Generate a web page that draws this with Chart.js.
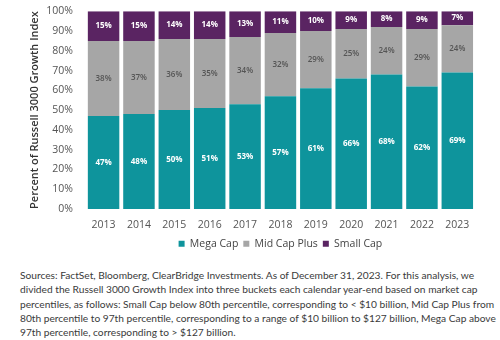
<!DOCTYPE html>
<html>
<head>
<meta charset="utf-8">
<script src="https://cdn.jsdelivr.net/npm/chart.js@4.4.0/dist/chart.umd.min.js"></script>
<style>
  html, body { margin: 0; padding: 0; background: #fff; }
  body { width: 500px; height: 340px; position: relative; overflow: hidden; font-family: "Open Sans", sans-serif; }
  #wrap { position: absolute; left: 0; top: 0; width: 500px; height: 259px; }
  #note { position: absolute; left: 20px; top: 268px; width: 480px; white-space: nowrap; font-family: Lato, sans-serif; font-size: 10.2px; line-height: 14.3px; color: #3a3a3a; }
</style>
</head>
<body>
<div id="wrap"><canvas id="chart"></canvas></div>
<div id="note">Sources: FactSet, Bloomberg, ClearBridge Investments. As of December 31, 2023. For this analysis, we<br>divided the Russell 3000 Growth Index into three buckets each calendar year-end based on market cap<br>percentiles, as follows: Small Cap below 80th percentile, corresponding to &lt; $10 billion, Mid Cap Plus from<br>80th percentile to 97th percentile, corresponding to a range of $10 billion to $127 billion, Mega Cap above<br>97th percentile, corresponding to &gt; $127 billion.</div>
<script>
const years = ['2013', '2014', '2015', '2016', '2017', '2018', '2019', '2020', '2021', '2022', '2023'];
const megaCap = [47, 48, 50, 51, 53, 57, 61, 66, 68, 62, 69];
const midCapPlus = [38, 37, 36, 35, 34, 32, 29, 25, 24, 29, 24];
const smallCap = [15, 15, 14, 14, 13, 11, 10, 9, 8, 9, 7];

// draws the % value in the middle of every segment
const segmentLabels = {
    id: 'segmentLabels',
    afterDatasetsDraw(chart) {
        const ctx = chart.ctx;
        ctx.save();
        ctx.textAlign = 'center';
        ctx.textBaseline = 'middle';
        chart.data.datasets.forEach((ds, i) => {
            const meta = chart.getDatasetMeta(i);
            ctx.font = (i === 1 ? '600 ' : 'bold ') + '8px "Open Sans", sans-serif';
            ctx.fillStyle = i === 1 ? '#555555' : '#ffffff';
            meta.data.forEach((bar, j) => {
                const y = (bar.y + bar.base) / 2;
                ctx.fillText(ds.data[j] + '%', bar.x, y);
            });
        });
        ctx.restore();
    }
};

const ctx = document.getElementById('chart').getContext('2d');
new Chart(ctx, {
    type: 'bar',
    data: {
        labels: years,
        datasets: [
            { label: 'Mega Cap', data: megaCap, backgroundColor: '#0e949c' },
            { label: 'Mid Cap Plus', data: midCapPlus, backgroundColor: '#a6a6a6' },
            { label: 'Small Cap', data: smallCap, backgroundColor: '#5a2462' }
        ]
    },
    options: {
        responsive: true,
        maintainAspectRatio: false,
        animation: false,
        layout: { padding: { top: 9, right: 25, left: 28, bottom: 0 } },
        datasets: { bar: { categoryPercentage: 1, barPercentage: 0.89, borderWidth: 0 } },
        scales: {
            x: {
                stacked: true,
                grid: { display: false },
                border: { display: false },
                ticks: { color: '#555', font: { size: 10.5, family: '"Open Sans", sans-serif' }, padding: 2 }
            },
            y: {
                stacked: true,
                min: 0,
                max: 100,
                grid: { display: false },
                border: { display: false },
                ticks: {
                    stepSize: 10,
                    color: '#555',
                    font: { size: 10.5, family: '"Open Sans", sans-serif' },
                    padding: 5,
                    callback: v => v + '%'
                },
                title: {
                    display: true,
                    text: 'Percent of Russell 3000 Growth Index',
                    color: '#333',
                    font: { size: 11, weight: '600', family: '"Open Sans", sans-serif' },
                    padding: { top: 0, bottom: 0 }
                }
            }
        },
        plugins: {
            legend: {
                position: 'bottom',
                fullSize: false,
                labels: {
                    boxWidth: 6,
                    boxHeight: 6,
                    padding: 5,
                    color: '#444',
                    font: { size: 10.5, family: '"Open Sans", sans-serif' }
                }
            },
            tooltip: { enabled: false }
        }
    },
    plugins: [segmentLabels]
});
</script>
</body>
</html>
